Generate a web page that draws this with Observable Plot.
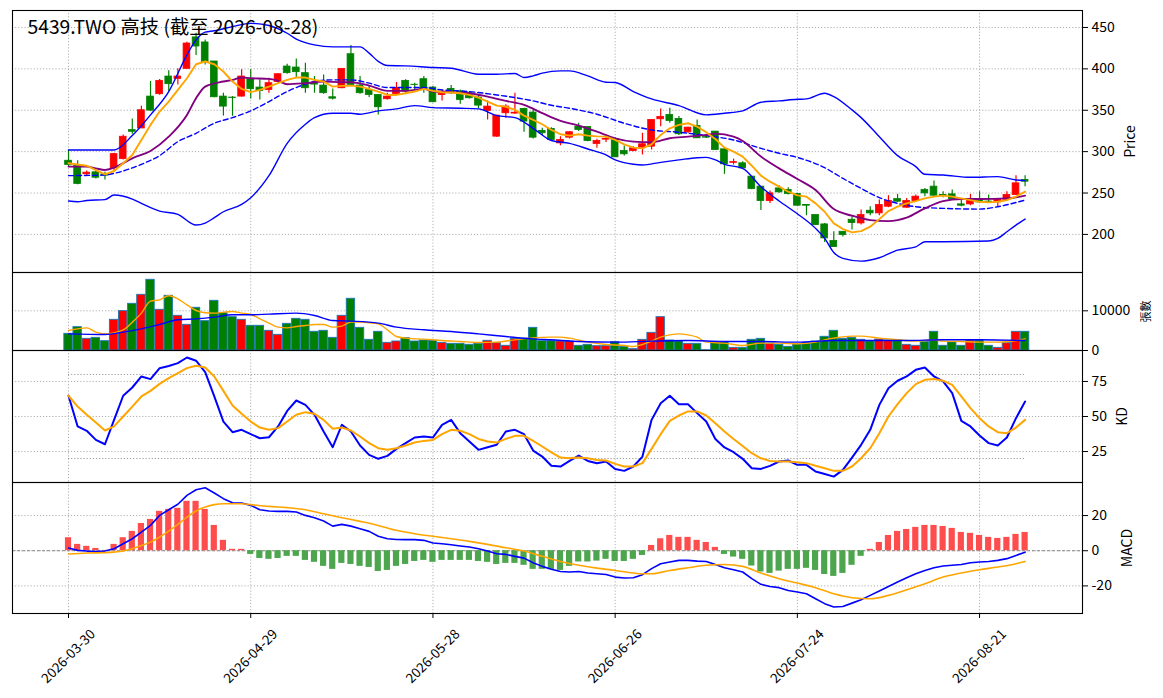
<!DOCTYPE html>
<html><head><meta charset="utf-8">
<script src="https://cdn.jsdelivr.net/npm/d3@7"></script>
<script src="https://cdn.jsdelivr.net/npm/@observablehq/plot@0.6"></script>
<style>
body{margin:0;background:#fff;}
#chart{position:relative;width:1163px;height:698px;background:#fff;overflow:hidden}
#chart svg{display:block}
</style></head><body><div id="chart"></div>
<script>
const title = "5439.TWO 高技 (截至 2026-08-28)";
const xTicks = [0, 20, 40, 60, 80, 100];
const xTickLabels = ["2026-03-30", "2026-04-29", "2026-05-28", "2026-06-26", "2026-07-24", "2026-08-21"];
const priceTicks = [200, 250, 300, 350, 400, 450];
const volTicks = [0, 10000];
const kdTicks = [25, 50, 75];
const kdRefs = [20, 80];
const macdTicks = [-20, 0, 20];

const open = [289,283,272.6,275,272.6,280,291,326,328,366.5,369.4,390.7,387.9,400,438,431.9,408.9,366.5,365.3,366.5,
387.5,377.4,374.6,384,402.8,401.6,394.8,382,379.8,365.7,376.6,417.7,379.8,374.6,368.5,363.3,369.4,385.5,380.8,387.5,
377.4,368.5,375.8,372.6,370.6,365.3,349.2,318.1,346.4,346,351.6,347.2,325,327.4,310,316.9,330.2,329.8,309.3,314.5,
315.3,300.8,300.8,304.8,306,339.1,344.4,339.5,323.4,331,317.5,324.2,302.8,286.5,285.9,269.8,257.7,240.3,255.6,253.6,
248.8,235.5,223.4,212.1,192,203.2,217.7,213.3,228.6,225.4,233.5,242.7,232.3,240.3,253.6,257.7,247.6,248.4,236.3,236.3,
241.5,239.7,238.7,241.5,247.6,265.7];
const high = [302,289,276.6,276.6,275,298,320,339.5,355,384.7,387,397.6,400,432,443,435,409,370.6,366.5,398.8,
398.8,386.7,388.7,394,405.6,412,406.9,390.7,392.7,375.8,400,428.2,390.7,378.6,368.5,370.6,383.5,386.7,382.7,390.7,
378.6,374.6,379.8,374.6,372.6,368.5,361.3,344,356.5,370.6,352.4,350.4,328.2,329,318,324.2,334.3,330,315,320,
316.9,306.9,306,322.2,338.3,351.6,352.4,342.3,329.4,338.3,320,324.2,304,291,287.9,270,258,252.4,258.9,256.5,
249.6,235.5,223.4,213.3,203.2,203.2,221.4,229.4,233.5,241.5,246.8,248.4,243.5,247.6,255.6,264.5,251.6,253.6,243.5,248.4,
251.6,247.6,242.7,251.6,271,271];
const low = [282,260,271,267,265.7,276,290,321,328,348.4,368,372.6,380.6,400,416,404.8,365,343,342.7,366,
363.7,362.5,370.6,382.7,393.5,388.7,370.6,370.6,369.4,362.5,376,380,369.4,365.3,344.4,362.5,369,370.6,374.6,370.6,
359,361.3,369.4,357.3,363.7,351.6,338.3,317.5,340.3,345.2,323.4,315.3,319.4,313,307,315.3,324.2,312,304,311,
293,294.8,300,296,302,330,334.3,319.4,322,316,316,302,272.6,283.9,279,254,229,237.5,249.6,247.6,
234,222.6,211,190.3,184.7,196.8,205.3,211.3,222.6,222.6,232.3,238.7,231.5,239.5,245.6,245.6,244.4,241.5,233.5,234.7,
237.5,237.5,233.5,240.3,247,257.7];
const close = [284,261,274.6,268.5,271,297,318,324,350,349.6,385.5,381.5,390.7,430.6,427,408,365.7,354.4,364.8,390.7,
375.4,373.4,382.7,393.5,394.8,396,376.6,381,370.6,364,400,380.6,370.6,368.5,353.6,366.5,376.6,372.6,380.4,374.6,
359.7,372.6,370.6,362.5,364.5,355.6,354.4,343.5,354.4,347,336.3,316.9,322.2,314,314,323.4,326.2,312.9,312.9,315.3,
293.1,296.8,304,308.9,338.3,342,337.1,321,329,316.1,316.9,302,284.7,287.3,279.8,254.8,240.3,249.6,250.8,248.8,
234.7,234.7,211.3,195.2,184.7,199.2,213.7,223.4,225.4,235.5,240.3,239.5,240.3,245.6,249.6,246.8,247,242.7,234.7,242.7,
238.7,239.3,241.5,247.6,261.7,263.7];
const volume = [4200,5880,2940,3190,2350,7730,9920,11760,14030,17815,10250,13780,8740,6470,10760,7390,12520,9410,8400,7730,
6220,6220,4960,3950,6720,7980,7730,4710,4960,3190,8740,13030,5710,2690,4710,1930,2270,3110,2270,2520,
2440,1930,1680,1680,1430,1680,2440,1850,1180,2940,2940,5710,2350,2350,2270,2270,1180,1430,1090,1090,
2100,920,340,2690,4450,8400,2520,2270,1680,1680,60,2100,2100,670,670,2690,2940,1680,1430,920,
1510,1930,2270,3450,4960,2940,3190,2690,2270,2770,2520,2520,1430,1180,2100,4710,1180,2020,1180,2520,
2520,1180,670,1850,4710,4710];

const ma5 = [[0,285.9],[2,283],[3,277.8],[4,272.6],[5,276.6],[6,285.9],[7,296],[8,314.1],[9,332.3],[10,348.4],[11,360.5],[12,374.6],[13,388.7],[14,405.6],[15,408.9],[16,405.6],[17,396.8],[18,384.7],[19,375.8],[20,371.8],[21,374.6],[22,378.6],[23,382.7],[24,386.7],[25,389.5],[26,389.5],[27,386.7],[28,384.7],[29,378.6],[30,379.4],[31,379.8],[32,378.6],[33,375.8],[34,372.6],[35,368.5],[36,368.5],[37,370.6],[38,372.6],[39,375.8],[40,373.4],[41,371.8],[42,371.4],[43,370.6],[44,368.5],[45,365.3],[46,360.5],[47,355.6],[48,354.4],[49,350.4],[50,343.5],[51,338.3],[52,333.1],[53,326.2],[54,321],[55,319.4],[56,321],[57,319.4],[58,318.5],[59,318.1],[60,314.1],[61,308.9],[62,304.8],[63,304],[64,308.9],[65,320.2],[66,328.2],[67,332.3],[68,334.3],[69,330.2],[70,323.4],[71,315.3],[72,304.8],[73,300],[74,294],[75,283],[76,271],[77,263.7],[78,257.7],[79,251.6],[80,247.2],[81,245.6],[82,237.5],[83,227.4],[84,213.3],[85,206.5],[86,202.4],[87,204],[88,209.3],[89,218.5],[90,228.2],[91,233.5],[92,237.5],[93,240.3],[94,243.5],[95,245.6],[96,246.8],[97,245.6],[98,243.5],[99,241.5],[100,239.5],[101,238.7],[102,239.5],[103,241.5],[104,245.6],[105,251.6]];
const ma10 = [[0,281.9],[2,281.9],[3,279.8],[4,277.8],[5,280.6],[7,292],[9,300.8],[11,318.1],[13,344.4],[14,364.5],[15,378.6],[17,384.7],[18,386.7],[19,389.5],[20,388.7],[22,387.9],[23,385.5],[24,381.5],[26,382.7],[28,384.7],[30,383.9],[31,383.9],[33,379.8],[35,373.4],[37,373.4],[39,375.8],[40,372.6],[42,371.8],[44,370.6],[46,366.5],[48,361.3],[50,356.5],[52,346.4],[54,337.1],[56,331.5],[58,324.2],[60,316.1],[62,312.1],[64,311.3],[66,316.1],[68,318.1],[70,320.2],[71,321.8],[73,318.1],[74,312.9],[76,294],[78,279.8],[80,267],[82,253.6],[84,230.6],[86,222.6],[88,217.3],[90,216.1],[91,217.3],[92,220.2],[94,231.5],[96,240.3],[98,242.7],[100,242.7],[103,243.5],[105,246.8]];
const bbUpper = [[0,302],[5,302],[7,319.4],[9,344.4],[11,372.6],[13,417],[14,435],[15,444.4],[16,446],[18,451],[20,455],[22,452.4],[24,443],[25,436],[27,429],[29,426.6],[32,426.6],[33,419],[34,409],[35,404],[37,403.6],[40,401.6],[42,400.8],[45,393.5],[47,393.5],[49,394.4],[50,389.5],[51,391.5],[52,394.8],[54,397.6],[55,397.6],[57,391.5],[59,383.9],[60,383.5],[62,372.6],[64,363.7],[67,355.6],[70,344.4],[72,346.4],[74,349.2],[76,359.7],[78,361.3],[80,363.2],[81,363.7],[83,370.6],[84,366.5],[86,350.4],[87,341.1],[89,318.1],[91,295.2],[93,281.9],[94,272.6],[96,271.8],[99,269],[102,269.8],[104,265.7],[105,265]];
const bbMid = [[0,271],[4,271.8],[5,273.8],[8,284.7],[10,295.2],[12,312],[14,322.2],[16,334.3],[18,341.1],[20,349.2],[22,360.5],[24,372.6],[26,381.5],[27,384.7],[29,386.7],[31,386.7],[33,382.7],[35,377.4],[39,377.4],[41,374.6],[44,372.6],[47,368.5],[49,365.3],[51,361.3],[53,356],[55,352.4],[58,345.2],[61,334.3],[64,326.2],[67,323.4],[70,319.4],[73,314.1],[76,304],[78,298],[80,293],[83,280.6],[85,267.7],[87,255.6],[89,244.4],[91,237.5],[93,233.5],[96,231.5],[100,230.6],[102,233.5],[105,241.5]];
const bbLower = [[0,240.3],[1,239.5],[2,241],[4,242],[5,247.6],[7,242.7],[8,237.5],[10,228.2],[12,224.2],[14,211.3],[15,213.7],[16,220.2],[17,227.4],[19,236.3],[20,244.4],[22,271],[24,310],[26,333],[27,341.1],[29,346.4],[31,346.4],[32,345.2],[34,349.2],[36,351.6],[38,355.6],[40,353.2],[43,352.4],[45,351.6],[47,343.5],[49,341.1],[51,328.2],[53,313.5],[55,310],[57,303.2],[59,296],[60,290],[62,284.7],[63,283.9],[65,287.1],[67,290],[69,292.7],[70,293.1],[71,290],[72,284.7],[74,279.8],[76,257.7],[78,240.3],[80,225],[82,207.3],[83,195.2],[84,178.2],[85,171],[87,167.7],[89,171.8],[91,181],[93,185],[94,191.1],[96,191.1],[101,192],[102,195.2],[103,203.2],[104,211.3],[105,218.5]];
const volMa5 = [[0,5040],[2,5710],[3,4620],[4,4200],[6,5210],[7,7140],[8,9410],[9,12440],[10,12770],[11,13780],[12,13030],[13,11510],[14,10080],[15,9500],[16,9410],[17,9660],[18,9830],[19,9410],[20,9080],[21,7980],[22,6890],[23,5880],[24,5710],[25,6050],[26,6300],[27,6550],[28,6550],[29,5880],[30,6130],[31,7140],[32,7140],[33,6970],[34,6720],[35,5210],[36,3530],[37,3110],[39,2860],[41,2520],[43,2270],[45,2020],[47,2100],[49,2690],[51,3190],[53,3360],[54,3360],[55,3110],[57,2100],[59,1510],[61,1260],[62,1010],[63,1510],[64,2350],[65,3360],[66,3950],[67,4200],[68,3950],[69,3360],[70,2100],[72,1850],[74,1260],[76,1850],[78,1850],[80,1680],[82,2100],[83,2690],[84,3110],[86,3610],[87,3610],[89,3110],[91,2690],[93,2350],[95,2690],[96,2350],[98,2270],[100,2100],[102,2100],[104,2520],[105,2940]];
const volMa20 = [[0,4200],[4,4030],[6,4620],[8,5460],[10,6550],[12,7730],[14,7980],[16,8400],[18,8990],[20,8990],[22,9160],[25,9410],[27,8820],[29,7560],[31,7390],[34,6890],[36,5880],[39,5210],[42,4790],[45,4200],[48,3530],[51,2940],[53,2690],[56,2270],[60,2100],[64,2350],[68,2520],[72,2270],[76,2270],[80,2100],[84,2520],[88,2520],[92,2520],[96,2690],[100,2690],[105,2520]];
const kValues = [64.8,42.9,39.8,33.3,30.2,47.6,64.8,70.7,78.6,76.7,84.5,86,88.1,92.1,89.8,81.7,64.3,46.4,38.8,40.5,
37.4,34.5,35.2,42.9,54,61.4,58.3,51.2,39.3,28.1,44,39.3,29.3,22.6,19.8,21.9,26.9,31,35,35.7,
35,44,47.6,38.1,32.1,26.2,28.1,29.8,39.3,40.5,37.4,25.7,21.4,14.8,14.3,18.3,22.1,18.3,16.7,17.9,
12.6,11.2,14.3,21.4,47.6,59.5,64.8,58.8,58.8,52.4,46.4,34,27.9,24.5,19.8,13.1,12.6,14.8,17.9,18.6,
15.5,15.5,10.7,9,7.1,11.9,20.7,29.8,40.5,58.3,70.2,75.5,78.6,83.3,85,78.6,75,66.7,46.9,42.9,
36.4,31,29.3,35,48.8,60.7];
const dValues = [64.8,57.1,51.2,45.7,40,42.9,50,57.1,64.3,68.3,73.3,77.4,81,84.5,86.2,85,78.6,68.3,57.9,51.9,
46.4,42.1,40.5,41.7,46.4,51.2,53.1,51.9,47.6,41.2,42.1,40,35.7,31,27.4,26.2,27.4,29.3,31.4,32.6,
33.3,37.4,40.5,39.8,37.4,34,32.1,31.4,34,36.2,36.2,32.6,28.6,24.4,20.7,20.2,20.7,20.2,19,18.6,
16.2,14.3,14.3,16.7,26.9,37.4,46.9,50.7,53.6,53.6,50.7,45.2,39.3,34,29,23.8,20.2,18.3,17.9,17.9,
17.4,16.7,14.8,13.1,11.2,11.2,14.3,20.2,27.4,38.1,50,58.8,66.7,73.1,76.2,76.7,75.5,72.6,64.3,56,
48.8,42.9,38.8,38.1,42.1,47.6];
const difValues = [1.5,0.2,-0.2,-0.4,-0.2,1.1,4,6.8,10.6,14.4,20.1,23.3,26.4,31.5,34.7,35.8,32.8,29.6,27.3,27.1,
25.8,23.3,22.6,22.4,22.4,22,20.1,18.8,16.9,14,15,14,12.5,11,8.2,6.8,6.4,6.3,6.3,5.9,
4.4,4,3.4,2.7,2.1,1.1,-0.2,-1.7,-2.1,-3.2,-4.2,-6.8,-8.9,-10.5,-11.8,-12.1,-11.8,-12.7,-13.1,-13.5,
-15,-15.5,-15.4,-13.6,-10.2,-7.4,-6.4,-5.5,-5.5,-5.9,-6.1,-7.8,-9.7,-10.8,-12.1,-15.9,-19.1,-20.3,-21,-22.6,
-23.5,-24.5,-27.3,-30.1,-32,-31.7,-29.8,-27.9,-25.4,-22.9,-20.3,-17.8,-15.4,-13.1,-11.2,-9.7,-8.7,-8.3,-7.8,-6.8,
-6.4,-6.1,-5.5,-4.5,-2.7,-0.8];
const deaLine = [[0,-1.9],[2,-1.3],[4,-1.1],[5,-0.8],[6,-0.2],[7,1.1],[8,3],[9,4.9],[10,7.8],[11,11.2],[12,15],[13,19.1],[14,22.6],[15,24.8],[16,26.2],[17,26.7],[19,26.7],[20,26.2],[22,25.2],[24,24.5],[26,23.3],[28,21],[30,18.8],[32,16.7],[34,14.4],[36,11.6],[38,9.7],[40,8.2],[42,6.8],[44,5.3],[46,3.6],[48,1.7],[50,-0.2],[52,-3.2],[54,-6.1],[56,-8.3],[58,-9.9],[60,-11.2],[62,-12.7],[63,-13.1],[64,-13.1],[66,-11.2],[68,-9.7],[70,-8.3],[72,-7.8],[74,-8.9],[76,-12.7],[78,-15.9],[80,-18.4],[82,-21],[84,-24.5],[86,-26.7],[88,-27.3],[90,-25.4],[92,-22.2],[94,-18.8],[96,-15],[98,-12.7],[100,-10.8],[102,-9.3],[104,-7.4],[105,-6.1]];
const histValues = [7.4,3.6,2.5,1.3,0.2,3.6,7.4,11,15.5,17.8,22.4,23.5,24.1,28.1,28.1,23.5,14.4,5.9,0.8,0.8,
-2.1,-4.4,-4.9,-4.4,-3.2,-3.2,-5.5,-6.6,-8.9,-10.6,-7.2,-7.8,-8.9,-9.5,-11.8,-11.2,-8.9,-7.8,-6.1,-5.5,
-6.6,-5.5,-5.5,-5.5,-5.5,-6.1,-6.6,-7.8,-7.2,-7.2,-8.3,-10.6,-10.6,-10.8,-11.2,-8.9,-6.4,-6.4,-5.9,-4.9,
-6.1,-6.1,-4.9,-2.7,3,6.8,8.7,7.6,7.6,5.9,4.7,1.9,-2.1,-3.6,-4.9,-8.7,-12.1,-12.9,-11.6,-10.6,
-10.6,-10,-11.2,-13.5,-14.6,-12.9,-8.3,-3.2,0.8,4.7,8.7,11,12.1,13.3,14.4,14.4,13.8,12.7,10.4,9.9,
8.7,7.6,7,7.6,9.3,10.4];

// ---------- build ----------
const bars = close.map((c, i) => ({i, o: open[i], h: high[i], l: low[i], c, v: volume[i], up: c >= open[i]}));
const kd = kValues.map((k, i) => ({i, k, d: dValues[i]}));
const macd = histValues.map((h, i) => ({i, h, dif: difValues[i]}));

const FONT = "'Noto Sans CJK TC','Noto Sans',sans-serif";
const W = 1163, ML = 12, MR = 81;
const xDom = [-6.15, 111.3];
const UP = "#ff0000", DOWN = "#008000";
const gridStyle = {stroke: "#b0b0b0", strokeOpacity: 1, strokeWidth: 1, strokeDasharray: "1.2,1.9"};
const P = d => d[0], V = d => d[1];

function panel({height, mt, mb, yDom, yTicks, marks, after = []}) {
  return Plot.plot({
    width: W, height, marginTop: mt, marginBottom: mb, marginLeft: ML, marginRight: MR,
    x: {type: "linear", domain: xDom, axis: null},
    y: {type: "linear", domain: yDom, axis: null},
    style: {fontFamily: FONT, fontSize: "14px", background: "white", overflow: "visible", color: "black"},
    marks: [
      Plot.gridX(xTicks, gridStyle),
      Plot.gridY(yTicks, gridStyle),
      ...marks,
      Plot.axisY(yTicks, {anchor: "right", tickSize: 5, tickPadding: 4, label: null, tickFormat: d => String(d), fontSize: 14}),
      Plot.frame({stroke: "black", strokeWidth: 1.1}),
      ...after
    ]
  });
}
function yLabel(txt, dx, size = 14) {
  return Plot.text([txt], {text: d => d, frameAnchor: "right", dx, rotate: -90, fontSize: size, textAnchor: "middle", lineAnchor: "middle"});
}

const pricePlot = panel({
  height: 272, mt: 10, mb: 0, yDom: [154, 470.5], yTicks: priceTicks,
  marks: [
    Plot.ruleX(bars, {x: "i", y1: "l", y2: "h", stroke: d => d.up ? UP : DOWN, strokeWidth: 1.2}),
    Plot.rect(bars, {x1: d => d.i - 0.37, x2: d => d.i + 0.37, y1: "o", y2: "c", fill: d => d.up ? UP : DOWN, stroke: d => d.up ? UP : DOWN, strokeWidth: 0.8}),
    Plot.line(bbUpper, {x: P, y: V, stroke: "blue", strokeWidth: 1.4, curve: "monotone-x"}),
    Plot.line(bbLower, {x: P, y: V, stroke: "blue", strokeWidth: 1.4, curve: "monotone-x"}),
    Plot.line(bbMid, {x: P, y: V, stroke: "blue", strokeWidth: 1.4, strokeDasharray: "5,3", curve: "monotone-x"}),
    Plot.line(ma10, {x: P, y: V, stroke: "purple", strokeWidth: 1.9, curve: "monotone-x"}),
    Plot.line(ma5, {x: P, y: V, stroke: "orange", strokeWidth: 1.9})
  ],
  after: [
    Plot.text([title], {text: d => d, frameAnchor: "top-left", dx: 15, dy: 10, textAnchor: "start", lineAnchor: "top", fontSize: 19.3}),
    yLabel("Price", 48)
  ]
});

const volPlot = panel({
  height: 78, mt: 0, mb: 0, yDom: [0, 19650], yTicks: volTicks,
  marks: [
    Plot.rectY(bars, {x1: d => d.i - 0.46, x2: d => d.i + 0.46, y1: 0, y2: "v", fill: d => d.up ? UP : DOWN, stroke: "#1f77b4", strokeWidth: 0.9}),
    Plot.line(volMa5, {x: P, y: V, stroke: "orange", strokeWidth: 1.4, curve: "monotone-x"}),
    Plot.line(volMa20, {x: P, y: V, stroke: "blue", strokeWidth: 1.4, curve: "monotone-x"})
  ],
  after: [yLabel("張數", 64, 11)]
});

const kdPlot = panel({
  height: 132, mt: 0, mb: 0, yDom: [2.9, 97.1], yTicks: kdTicks,
  marks: [
    Plot.ruleY(kdRefs, {y: d => d, x1: 0, x2: 105, stroke: "#999", strokeWidth: 1, strokeDasharray: "1.2,1.9"}),
    Plot.line(kd, {x: "i", y: "k", stroke: "blue", strokeWidth: 2}),
    Plot.line(kd, {x: "i", y: "d", stroke: "orange", strokeWidth: 2})
  ],
  after: [yLabel("KD", 40)]
});

const macdPlot = panel({
  height: 216, mt: 0, mb: 85, yDom: [-35.7, 38.8], yTicks: macdTicks,
  marks: [
    Plot.ruleY([0], {stroke: "#888", strokeWidth: 1, strokeDasharray: "3,2"}),
    Plot.rect(macd, {x1: d => d.i - 0.34, x2: d => d.i + 0.34, y1: 0, y2: "h", fill: d => d.h >= 0 ? "#ff4d4d" : "#4da64d"}),
    Plot.line(macd, {x: "i", y: "dif", stroke: "blue", strokeWidth: 1.6}),
    Plot.line(deaLine, {x: P, y: V, stroke: "orange", strokeWidth: 1.6, curve: "monotone-x"})
  ],
  after: [
    Plot.axisX(xTicks, {anchor: "bottom", tickSize: 5, tickFormat: () => "", label: null}),
    Plot.text(xTicks, {x: d => d, text: (d, i) => xTickLabels[i], frameAnchor: "bottom", dy: 43, rotate: -45, textAnchor: "middle", lineAnchor: "middle", fontSize: 13.5}),
    yLabel("MACD", 45)
  ]
});

const root = document.getElementById("chart");
[pricePlot, volPlot, kdPlot, macdPlot].forEach(p => root.appendChild(p));
</script></body></html>
